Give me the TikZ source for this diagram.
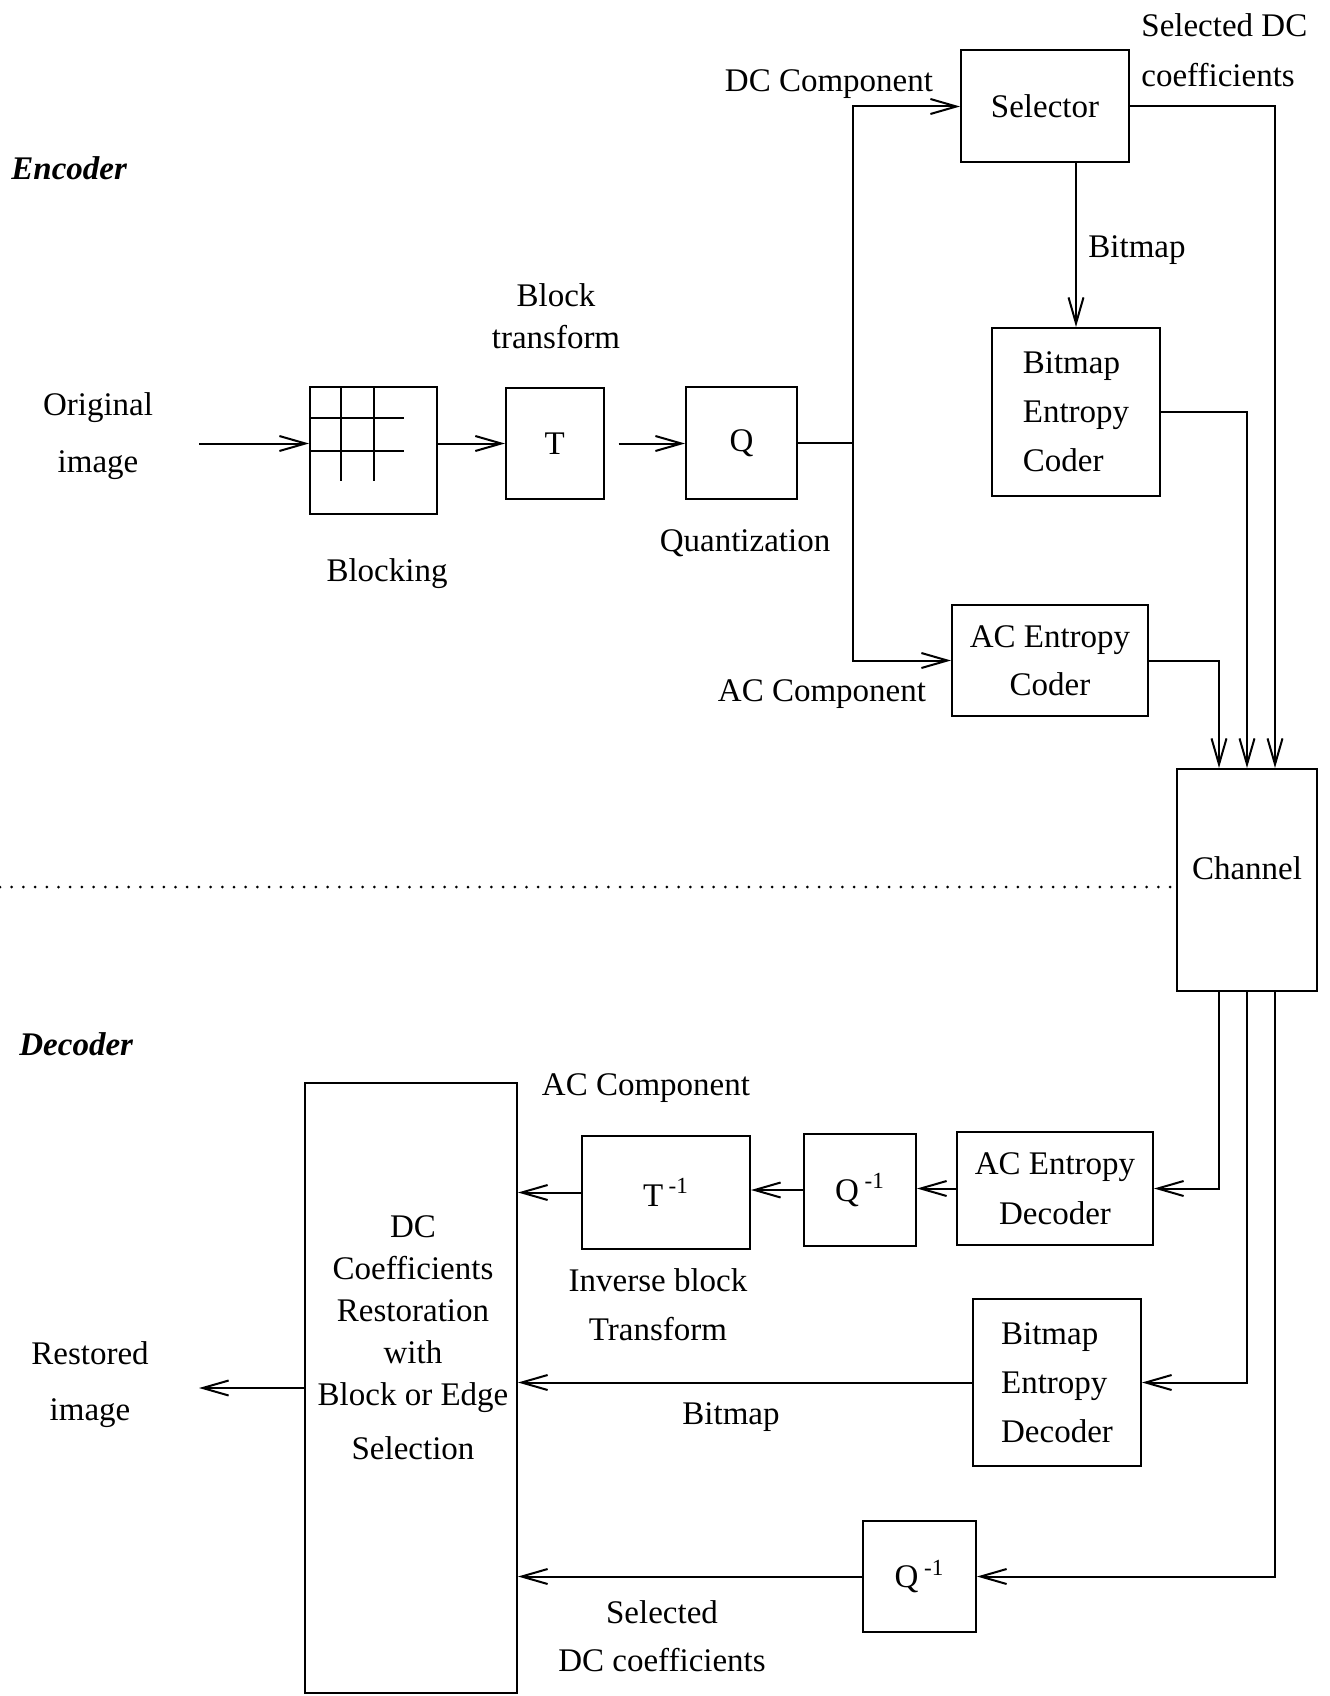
\documentclass[tikz,border=0pt]{standalone}
\usepackage{fontspec}
\setmainfont{Liberation Serif}
\usepackage{tikz}
\usetikzlibrary{arrows.meta,positioning,calc}

\begin{document}
\begin{tikzpicture}[
    x=0.5pt,y=-0.5pt,
    every node/.style={font=\fontsize{16.5}{21}\selectfont},
    procbox/.style={rectangle,draw,line width=1pt,inner sep=0pt,align=center},
    caption/.style={align=center,inner sep=0pt},
    partlabel/.style={inner sep=0pt,anchor=west,font=\fontsize{16.5}{21}\selectfont\bfseries\itshape},
    flowline/.style={line width=1pt},
    flowarrow/.style={line width=1pt,-{Straight Barb[length=13pt,width=7.5pt]}},
    dotline/.style={line width=1.5pt,line cap=round,dash pattern=on 0pt off 5.85pt},
]
\useasboundingbox (0,0) rectangle (1329,1696);

% encoder
\node[partlabel] (enc) at (11,168) {Encoder};
\node[caption,font=\fontsize{16.5}{28.5}\selectfont] (orig) at (98,436) {Original\\image};
\node[procbox,minimum width=63.5pt,minimum height=63.5pt] (blk) at (373.5,450.5) {};
\draw[line width=1pt] ($(blk.north west)!0.25!(blk.north east)$) -- ++(0,95)
                      ($(blk.north west)!0.5!(blk.north east)$) -- ++(0,95)
                      ($(blk.north west)!0.25!(blk.south west)$) -- ++(95,0)
                      ($(blk.north west)!0.5!(blk.south west)$) -- ++(95,0);
\node[procbox,minimum width=48.8pt,minimum height=55.9pt] (tb) at (554.7,443.5) {T};
\node[procbox,minimum width=55.5pt,minimum height=56pt] (qb) at (741.5,443) {Q};
\node[procbox,minimum width=84pt,minimum height=56pt] (sel) at (1045,106.5) {Selector};
\node[procbox,minimum width=84pt,minimum height=84pt,align=left,font=\fontsize{16.5}{24.5}\selectfont] (bec) at (1076,412) {Bitmap\\Entropy\\Coder};
\node[procbox,minimum width=98pt,minimum height=55.5pt,font=\fontsize{16.5}{24}\selectfont] (acc) at (1050,660.5) {AC Entropy\\Coder};
\node[procbox,minimum width=70pt,minimum height=111pt] (chan) at (1247,880) {};
\node[caption] (chantxt) at (1247,868) {Channel};

\node[caption] (btlab) at (556,316) {Block\\transform};
\node[caption] (blklab) at (387,574) {Blocking};
\node[caption] (qlab) at (745,543) {Quantization};
\node[caption] (dclab) at (829,84) {DC Component};
\node[caption,align=left,anchor=west,font=\fontsize{16.5}{25}\selectfont] (sdclab) at (1141,50) {Selected DC\\coefficients};
\node[caption] (bmlab) at (1137,250) {Bitmap};
\node[caption] (aclab) at (822,694) {AC Component};

\coordinate (jn) at (853,443);
\coordinate (cin1) at ([xshift=-14pt]chan.north);
\coordinate (cin3) at ([xshift=14pt]chan.north);

\draw[flowarrow] ([xshift=23pt]orig.east |- tb.west) -- (blk.west |- tb.west);
\draw[flowarrow] (blk.east |- tb.west) -- (tb.west);
\draw[flowarrow] ([xshift=7pt]tb.east) -- (qb.west |- tb.east);
\draw[flowline] (qb.east) -- (jn);
\draw[flowarrow] (jn) |- (sel.west);
\draw[flowarrow] (jn) |- (acc.west);
\draw[flowarrow] (bec.north |- sel.south) -- (bec.north);
\draw[flowarrow] (acc.east) -| (cin1);
\draw[flowarrow] (bec.east) -| (chan.north);
\draw[flowarrow] (sel.east) -| (cin3);

% split line
\coordinate (dl) at (0,887);
\draw[dotline] (dl) -- (dl -| chan.west);

% decoder
\node[partlabel] (dec) at (19,1044) {Decoder};
\node[procbox,minimum width=98pt,minimum height=56.5pt,font=\fontsize{16.5}{25}\selectfont] (acd) at (1055,1188.5) {AC Entropy\\Decoder};
\node[procbox,minimum width=56pt,minimum height=56pt] (qia) at (860,1190) {Q\,\textsuperscript{-1}};
\node[procbox,minimum width=84pt,minimum height=56.5pt] (tib) at (666,1192.5) {T\,\textsuperscript{-1}};
\node[procbox,minimum width=84pt,minimum height=83.5pt,align=left,font=\fontsize{16.5}{24.5}\selectfont] (bed) at (1057,1382.5) {Bitmap\\Entropy\\Decoder};
\node[procbox,minimum width=56.5pt,minimum height=55.5pt] (qib) at (919.5,1576.5) {Q\,\textsuperscript{-1}};
\node[procbox,minimum width=106pt,minimum height=305pt] (rest) at (411,1388) {};
\node[caption] (resttxt) at (413,1338) {DC\\Coefficients\\Restoration\\with\\Block or Edge\\[6pt]Selection};

\node[caption] (aclab2) at (646,1088) {AC Component};
\node[caption,font=\fontsize{16.5}{24.5}\selectfont] (iblab) at (658,1305) {Inverse block\\Transform};
\node[caption] (bmlab2) at (731,1417) {Bitmap};
\node[caption,font=\fontsize{16.5}{24}\selectfont] (sdclab2) at (662,1636) {Selected\\DC coefficients};
\node[caption,font=\fontsize{16.5}{28}\selectfont] (restlab) at (90,1385) {Restored\\image};

\draw[flowarrow] ([xshift=-14pt]chan.south) |- (acd.east);
\draw[flowarrow] (chan.south) |- (bed.east);
\draw[flowarrow] ([xshift=14pt]chan.south) |- (qib.east);
\draw[flowarrow] (acd.west) -- (acd.west -| qia.east);
\draw[flowarrow] (qia.west) -- (qia.west -| tib.east);
\draw[flowarrow] (tib.west) -- (tib.west -| rest.east);
\draw[flowarrow] (bed.west) -- (bed.west -| rest.east);
\draw[flowarrow] (qib.west) -- (qib.west -| rest.east);
\draw[flowarrow] (rest.west) -- ([xshift=25pt]restlab.east |- rest.west);
\end{tikzpicture}
\end{document}
